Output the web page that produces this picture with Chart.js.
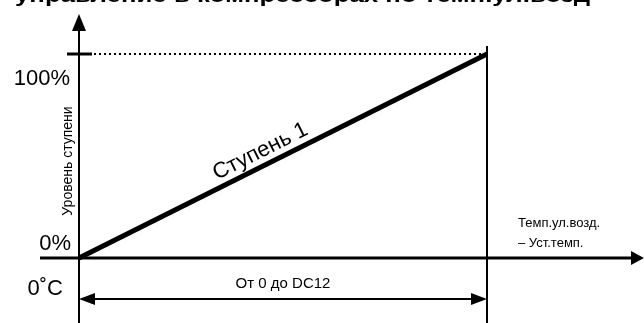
<!DOCTYPE html>
<html><head><meta charset="utf-8">
<script src="https://cdn.jsdelivr.net/npm/chart.js@4/dist/chart.umd.min.js"></script>
<style>html,body{margin:0;padding:0;background:#fff}#wrap{width:644px;height:323px}</style>
</head><body><div id="wrap"><canvas id="c" width="644" height="323"></canvas></div>
<script>
// Data
const stageX = [0, 1];          // 0 .. DC12 (normalized)
const stageY = [0, 100];        // level %
const limitY = [100, 100];      // dotted 100% line
const yTickLabels = ['0%', '100%'];
const xTickLabels = ['0˚C'];
const seriesLabel = 'Ступень 1';
const yAxisTitle = 'Уровень ступени';
const xAxisTitle = ['Темп.ул.возд.', '– Уст.темп.'];
const rangeLabel = 'От 0 до DC12';
const titleText = 'управление в компрессорах по темп.ул.возд';

const F = '"Liberation Sans", Arial, sans-serif';

function arrow(ctx, tx, ty, dir, len, half) {
  ctx.beginPath();
  if (dir === 'up') { ctx.moveTo(tx, ty); ctx.lineTo(tx - half, ty + len); ctx.lineTo(tx + half, ty + len); }
  if (dir === 'right') { ctx.moveTo(tx, ty); ctx.lineTo(tx - len, ty - half); ctx.lineTo(tx - len, ty + half); }
  if (dir === 'left') { ctx.moveTo(tx, ty); ctx.lineTo(tx + len, ty - half); ctx.lineTo(tx + len, ty + half); }
  ctx.closePath(); ctx.fill();
}

const decor = {
  id: 'decor',
  beforeDatasetsDraw(chart) {
    const ctx = chart.ctx, xs = chart.scales.x, ys = chart.scales.y;
    const x0 = xs.getPixelForValue(stageX[0]), x1 = xs.getPixelForValue(stageX[1]);
    const y0 = ys.getPixelForValue(stageY[0]), y1 = ys.getPixelForValue(stageY[1]);
    const W = chart.width, H = chart.height;
    ctx.save();
    ctx.fillStyle = '#000'; ctx.strokeStyle = '#000';
    // title (clipped at top)
    ctx.font = 'bold 20px ' + F;
    ctx.textBaseline = 'alphabetic'; ctx.textAlign = 'left';
    const tw = ctx.measureText(titleText).width;
    ctx.save(); ctx.translate(15, 2); ctx.scale(575 / tw, 1); ctx.fillText(titleText, 0, 0); ctx.restore();
    // y axis
    ctx.lineWidth = 2;
    ctx.beginPath(); ctx.moveTo(x0, 28); ctx.lineTo(x0, H); ctx.stroke();
    arrow(ctx, x0, 14, 'up', 17, 7);
    // x axis
    ctx.lineWidth = 3;
    ctx.beginPath(); ctx.moveTo(40, y0); ctx.lineTo(W - 10, y0); ctx.stroke();
    arrow(ctx, W, y0, 'right', 13, 7);
    // right vertical line at DC12
    ctx.lineWidth = 2;
    ctx.beginPath(); ctx.moveTo(x1, y1 - 8); ctx.lineTo(x1, H); ctx.stroke();
    // 100% tick
    ctx.lineWidth = 3;
    ctx.beginPath(); ctx.moveTo(x0 - 12, y1); ctx.lineTo(x0 + 13, y1); ctx.stroke();
    // range double arrow
    const ry = y0 + 41;
    ctx.lineWidth = 2;
    ctx.beginPath(); ctx.moveTo(x0 + 10, ry); ctx.lineTo(x1 - 10, ry); ctx.stroke();
    arrow(ctx, x0, ry, 'left', 16, 6);
    arrow(ctx, x1, ry, 'right', 16, 6);
    ctx.restore();
  },
  afterDraw(chart) {
    const ctx = chart.ctx, xs = chart.scales.x, ys = chart.scales.y;
    const x0 = xs.getPixelForValue(stageX[0]), x1 = xs.getPixelForValue(stageX[1]);
    const y0 = ys.getPixelForValue(stageY[0]), y1 = ys.getPixelForValue(stageY[1]);
    ctx.save();
    ctx.fillStyle = '#000';
    ctx.textBaseline = 'alphabetic';
    ctx.font = '22px ' + F; ctx.textAlign = 'right';
    ctx.fillText(yTickLabels[1], x0 - 9, y1 + 31);
    ctx.fillText(yTickLabels[0], x0 - 8, y0 - 8);
    ctx.fillText(xTickLabels[0], x0 - 16, y0 + 37);
    // y axis title
    ctx.save(); ctx.translate(x0 - 11, (y0 + y1) / 2 + 5); ctx.rotate(-Math.PI / 2);
    ctx.font = '14px ' + F; ctx.textAlign = 'center'; ctx.textBaseline = 'middle';
    ctx.fillText(yAxisTitle, 0, 0); ctx.restore();
    // series label along line
    const ang = Math.atan2(y1 - y0, x1 - x0);
    const px = xs.getPixelForValue(0.46), py = ys.getPixelForValue(46);
    ctx.save(); ctx.translate(px, py); ctx.rotate(ang);
    ctx.font = '22px ' + F; ctx.textAlign = 'center'; ctx.textBaseline = 'alphabetic';
    ctx.fillText(seriesLabel, 0, -8); ctx.restore();
    // x axis title
    ctx.font = '13px ' + F; ctx.textAlign = 'left';
    ctx.fillText(xAxisTitle[0], x1 + 31, y0 - 31);
    ctx.fillText(xAxisTitle[1], x1 + 31, y0 - 11);
    // range label
    ctx.font = '15px ' + F; ctx.textAlign = 'center';
    ctx.fillText(rangeLabel, (x0 + x1) / 2, y0 + 30);
    ctx.restore();
  }
};

new Chart(document.getElementById('c'), {
  type: 'line',
  data: {
    datasets: [
      { data: stageX.map((x, i) => ({ x, y: limitY[i] })), borderColor: '#000', borderWidth: 2, borderDash: [2, 3], pointRadius: 0, tension: 0, clip: false },
      { label: seriesLabel, data: stageX.map((x, i) => ({ x, y: stageY[i] })), borderColor: '#000', borderWidth: 5, pointRadius: 0, tension: 0, clip: false, borderCapStyle: 'butt' }
    ]
  },
  options: {
    responsive: false, animation: false, devicePixelRatio: 1,
    layout: { padding: { left: 79, right: 157, top: 54, bottom: 65 } },
    scales: {
      x: { type: 'linear', min: 0, max: 1, display: false },
      y: { type: 'linear', min: 0, max: 100, display: false }
    },
    plugins: { legend: { display: false }, tooltip: { enabled: false }, title: { display: false } }
  },
  plugins: [decor]
});
</script></body></html>
